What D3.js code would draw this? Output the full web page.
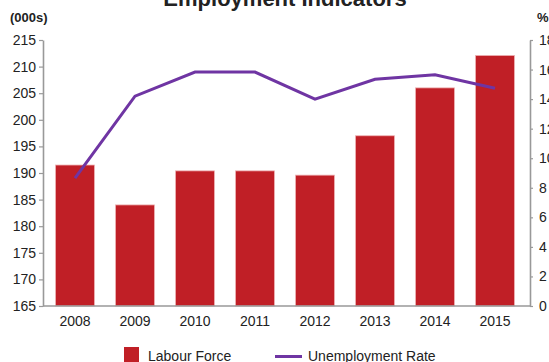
<!DOCTYPE html>
<html>
<head>
<meta charset="utf-8">
<script src="https://cdn.jsdelivr.net/npm/d3@7"></script>
<style>
  html, body { margin: 0; padding: 0; background: #fff; }
  svg { display: block; font-family: "Liberation Sans", Arial, sans-serif; }
</style>
</head>
<body>
<svg id="chart" width="549" height="362"></svg>
<script>
// Employment indicators: labour force (bars, left axis) and unemployment rate (line, right axis)
const years = ["2008", "2009", "2010", "2011", "2012", "2013", "2014", "2015"];
const labourForce = [191.5, 184.0, 190.4, 190.4, 189.6, 197.0, 206.0, 212.1];
const unemploymentRate = [8.66, 14.2, 15.83, 15.83, 14.0, 15.34, 15.65, 14.73];
const leftTicks = [165, 170, 175, 180, 185, 190, 195, 200, 205, 210, 215];
const rightTicks = [0, 2, 4, 6, 8, 10, 12, 14, 16, 18];

const svg = d3.select("#chart");
const axisColor = "#999999";
const barColor = "#C01F26";
const lineColor = "#6F35A3";

const x = d3.scaleBand().domain(years).range([45, 525]).paddingInner(0.35).paddingOuter(0.175);
const yLeft = d3.scaleLinear().domain([165, 215]).range([306, 40]);
const yRight = d3.scaleLinear().domain([0, 18]).range([306, 40]);

// Title (partially above the visible area)
svg.append("text")
  .attr("x", 285).attr("y", 6)
  .attr("text-anchor", "middle")
  .attr("font-size", 22).attr("font-weight", "bold").attr("fill", "#222")
  .text("Employment Indicators");

// Unit labels
svg.append("text").attr("x", 10).attr("y", 22)
  .attr("font-size", 13).attr("font-weight", "bold").attr("fill", "#222").text("(000s)");
svg.append("text").attr("x", 537).attr("y", 22)
  .attr("font-size", 13).attr("font-weight", "bold").attr("fill", "#222").text("%");

// Bars
svg.append("g").selectAll("rect")
  .data(years)
  .join("rect")
  .attr("x", d => x(d))
  .attr("width", x.bandwidth())
  .attr("y", (d, i) => yLeft(labourForce[i]))
  .attr("height", (d, i) => yLeft(165) - yLeft(labourForce[i]))
  .attr("fill", barColor)
  .attr("stroke", "#eeb3b5")
  .attr("stroke-width", 0.8);

// Left axis
const leftAxis = svg.append("g")
  .attr("transform", "translate(43,0)")
  .call(d3.axisLeft(yLeft).tickValues(leftTicks).tickSize(4).tickSizeOuter(0).tickPadding(3));
// Right axis
const rightAxis = svg.append("g")
  .attr("transform", "translate(530,0)")
  .call(d3.axisRight(yRight).tickValues(rightTicks).tickSize(3).tickSizeOuter(0).tickPadding(6));
// Bottom axis
const bottomAxis = svg.append("g")
  .attr("transform", "translate(0,306)")
  .call(d3.axisBottom(x).tickSize(0).tickSizeOuter(0).tickPadding(10));

[leftAxis, rightAxis, bottomAxis].forEach(g => {
  g.select(".domain").attr("stroke", axisColor).attr("stroke-width", 1.6);
  g.selectAll(".tick line").attr("stroke", axisColor).attr("stroke-width", 1.2);
  g.selectAll(".tick text").attr("fill", "#222").attr("font-size", 14)
    .attr("font-family", "Liberation Sans, Arial, sans-serif");
});
bottomAxis.select(".domain").attr("d", "M43,0H530");

// Unemployment rate line
const line = d3.line()
  .x((d, i) => x(years[i]) + x.bandwidth() / 2)
  .y(d => yRight(d));
svg.append("path")
  .datum(unemploymentRate)
  .attr("d", line)
  .attr("fill", "none")
  .attr("stroke", lineColor)
  .attr("stroke-width", 3)
  .attr("stroke-linejoin", "miter");

// Legend
const legend = svg.append("g");
legend.append("rect").attr("x", 124).attr("y", 347).attr("width", 15).attr("height", 15).attr("fill", barColor);
legend.append("text").attr("x", 148).attr("y", 361).attr("font-size", 14).attr("fill", "#222").text("Labour Force");
legend.append("line").attr("x1", 275).attr("x2", 302).attr("y1", 356.5).attr("y2", 356.5)
  .attr("stroke", lineColor).attr("stroke-width", 3);
legend.append("text").attr("x", 308).attr("y", 361).attr("font-size", 14).attr("fill", "#222").text("Unemployment Rate");
</script>
</body>
</html>
